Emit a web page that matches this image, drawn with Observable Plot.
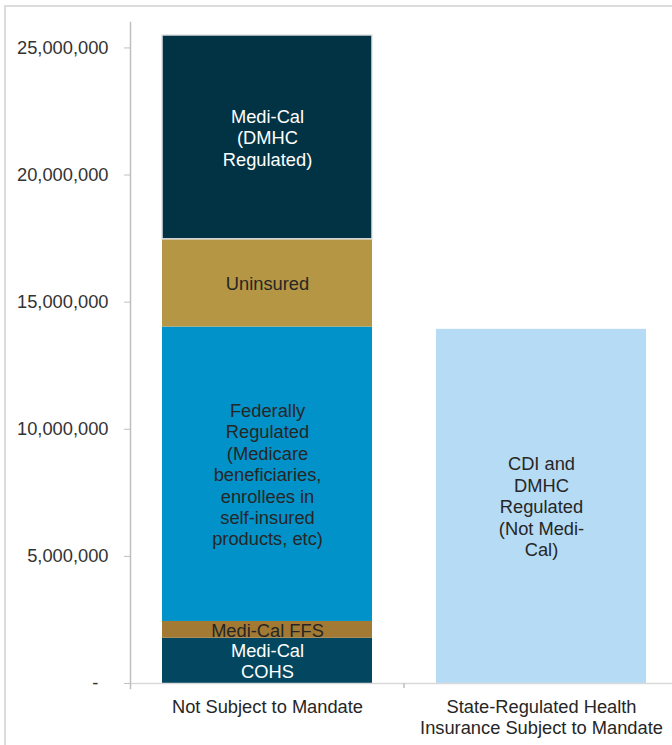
<!DOCTYPE html>
<html><head><meta charset="utf-8">
<script src="https://cdn.jsdelivr.net/npm/d3@7"></script>
<script src="https://cdn.jsdelivr.net/npm/@observablehq/plot@0.6"></script>
<style>
body{margin:0;background:#fff;font-family:"Liberation Sans",Arial,sans-serif;}
#wrap{position:relative;width:672px;height:745px;overflow:hidden;}
#frame{position:absolute;left:4px;top:5px;width:720px;height:800px;border:2px solid #dcdcdc;box-sizing:border-box;pointer-events:none;}
#chart{position:absolute;left:0;top:0;}
</style></head><body><div id="wrap"><div id="chart"></div><div id="frame"></div></div>
<script>
const categories = ["Not Subject to Mandate", "State-Regulated Health Insurance Subject to Mandate"];
const categoryLabels = ["Not Subject to Mandate", "State-Regulated Health\nInsurance Subject to Mandate"];
const segments = ["Medi-Cal COHS", "Medi-Cal FFS", "Federally Regulated", "Uninsured", "Medi-Cal DMHC", "CDI and DMHC"];
const segmentLabels = [
  "Medi-Cal\nCOHS",
  "Medi-Cal FFS",
  "Federally\nRegulated\n(Medicare\nbeneficiaries,\nenrollees in\nself-insured\nproducts, etc)",
  "Uninsured",
  "Medi-Cal\n(DMHC\nRegulated)",
  "CDI and\nDMHC\nRegulated\n(Not Medi-\nCal)"
];
const segmentCategory = [0, 0, 0, 0, 0, 1];
const values = [1780000, 660000, 11580000, 3450000, 8020000, 13930000];
const colors = ["#02475f", "#a37a34", "#0192c9", "#b49644", "#023344", "#b6dbf5"];
const lightTextSegments = ["Medi-Cal COHS", "Medi-Cal DMHC"];
const outlinedSegments = ["Medi-Cal DMHC"];
const yTicks = [0, 5000000, 10000000, 15000000, 20000000, 25000000];

const data = segments.map((s, i) => ({
  category: categories[segmentCategory[i]],
  segment: s,
  label: segmentLabels[i],
  value: values[i]
}));

const chart = Plot.plot({
  width: 672,
  height: 745,
  marginLeft: 130,
  marginRight: 0,
  marginTop: 22,
  marginBottom: 62,
  style: {fontFamily: '"Liberation Sans", Arial, sans-serif', fontSize: "18.3px", background: "transparent", color: "#333"},
  x: {domain: categories, range: [130, 678], paddingInner: 0.234, paddingOuter: 0.117, label: null},
  y: {domain: [0, 26000000], label: null},
  color: {domain: segments, range: colors},
  marks: [
    Plot.barY(data, Plot.stackY({
      x: "category", y: "value", fill: "segment",
      stroke: "#e4e4e4",
      strokeOpacity: d => outlinedSegments.includes(d.segment) ? 1 : 0,
      strokeWidth: 1.5
    })),
    Plot.text(data, Plot.stackY({
      x: "category", y: "value", text: "label",
      fill: d => lightTextSegments.includes(d.segment) ? "#ffffff" : "#262626",
      lineHeight: 1.17, fontSize: 18.3
    })),
    Plot.ruleY([0], {stroke: "#d9d9d9", strokeWidth: 1.5}),
    Plot.frame({anchor: "left", stroke: "#bfbfbf", strokeWidth: 1.5, insetBottom: -5}),
    Plot.axisY({
      ticks: yTicks, tickSize: 6, tickPadding: 16,
      tickFormat: d => d === 0 ? "-\u00a0\u00a0" : d3.format(",")(d),
      stroke: "#bfbfbf", fill: "#333", label: null
    }),
    Plot.axisX({
      tickSize: 0, tickPadding: 15,
      tickFormat: d => categoryLabels[categories.indexOf(d)],
      fill: "#262626", lineHeight: 1.15, label: null
    })
  ]
});

document.getElementById("chart").appendChild(chart);

// category separator tick on the x axis, positioned from Plot's own x and y scales
const xs = chart.scale("x");
const ys = chart.scale("y");
const bx = (xs.apply(categories[0]) + xs.bandwidth + xs.apply(categories[1])) / 2;
const by = ys.apply(0);
d3.select(chart).append("line")
  .attr("x1", bx).attr("x2", bx)
  .attr("y1", by).attr("y2", by + 5)
  .attr("stroke", "#bfbfbf").attr("stroke-width", 1.5);
</script>
</body></html>
